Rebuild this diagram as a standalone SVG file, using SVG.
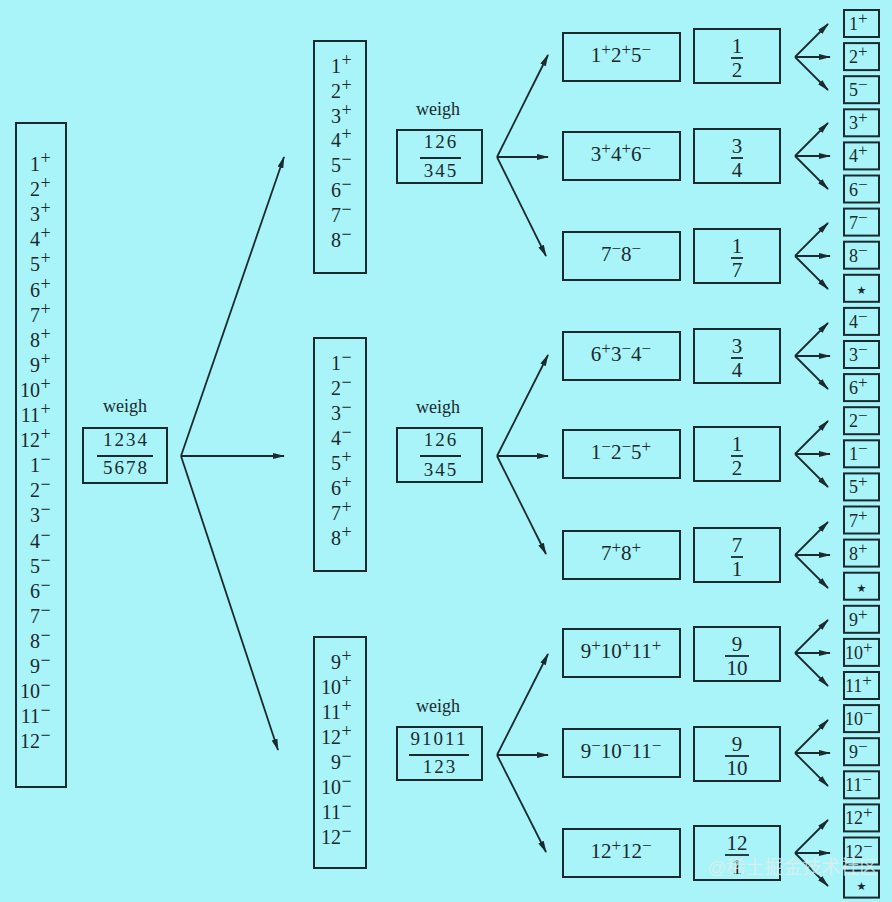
<svg xmlns="http://www.w3.org/2000/svg" width="892" height="902" viewBox="0 0 892 902">
<defs>
<style>
.bg{fill:#a8f4f8}
.box{fill:none;stroke:#1b2a2e;stroke-width:2}
.ln{fill:none;stroke:#1b2a2e;stroke-width:1.8}
text{font-family:"Liberation Serif","DejaVu Serif",serif;fill:#1b2a2e}
.n{font-size:20px}
.s{font-size:18px}
.w{font-size:18px;text-anchor:middle}
.wb{font-size:19px;text-anchor:middle;letter-spacing:2px}
.lab{font-size:21px;text-anchor:middle}
.fr{font-size:21px;text-anchor:middle}
.sm{font-size:18px}
.ss{font-size:17px}
.star{font-family:"DejaVu Sans",sans-serif;font-size:11px;text-anchor:middle}
.wm{font-family:"Liberation Sans","Noto Sans CJK SC",sans-serif;font-size:19px;fill:#e4eeee;fill-opacity:0.75}
</style>
<marker id="ah" markerWidth="12" markerHeight="8" refX="11" refY="4" orient="auto" markerUnits="userSpaceOnUse"><path d="M0,1 L12,4 L0,7 z" fill="#1b2a2e"/></marker>
</defs>
<rect class="bg" x="0" y="0" width="892" height="902"/>

<g id="all-coins">
<rect class="box" x="16" y="123" width="50" height="664"/>
<text class="n" y="171"><tspan x="40" text-anchor="end">1</tspan><tspan class="s" x="40.5" dy="-7">+</tspan></text>
<text class="n" y="196.1"><tspan x="40" text-anchor="end">2</tspan><tspan class="s" x="40.5" dy="-7">+</tspan></text>
<text class="n" y="221.2"><tspan x="40" text-anchor="end">3</tspan><tspan class="s" x="40.5" dy="-7">+</tspan></text>
<text class="n" y="246.3"><tspan x="40" text-anchor="end">4</tspan><tspan class="s" x="40.5" dy="-7">+</tspan></text>
<text class="n" y="271.4"><tspan x="40" text-anchor="end">5</tspan><tspan class="s" x="40.5" dy="-7">+</tspan></text>
<text class="n" y="296.5"><tspan x="40" text-anchor="end">6</tspan><tspan class="s" x="40.5" dy="-7">+</tspan></text>
<text class="n" y="321.6"><tspan x="40" text-anchor="end">7</tspan><tspan class="s" x="40.5" dy="-7">+</tspan></text>
<text class="n" y="346.7"><tspan x="40" text-anchor="end">8</tspan><tspan class="s" x="40.5" dy="-7">+</tspan></text>
<text class="n" y="371.8"><tspan x="40" text-anchor="end">9</tspan><tspan class="s" x="40.5" dy="-7">+</tspan></text>
<text class="n" y="396.9"><tspan x="40" text-anchor="end">10</tspan><tspan class="s" x="40.5" dy="-7">+</tspan></text>
<text class="n" y="422"><tspan x="40" text-anchor="end">11</tspan><tspan class="s" x="40.5" dy="-7">+</tspan></text>
<text class="n" y="447.1"><tspan x="40" text-anchor="end">12</tspan><tspan class="s" x="40.5" dy="-7">+</tspan></text>
<text class="n" y="472.2"><tspan x="40" text-anchor="end">1</tspan><tspan class="s" x="40.5" dy="-7">−</tspan></text>
<text class="n" y="497.3"><tspan x="40" text-anchor="end">2</tspan><tspan class="s" x="40.5" dy="-7">−</tspan></text>
<text class="n" y="522.4"><tspan x="40" text-anchor="end">3</tspan><tspan class="s" x="40.5" dy="-7">−</tspan></text>
<text class="n" y="547.5"><tspan x="40" text-anchor="end">4</tspan><tspan class="s" x="40.5" dy="-7">−</tspan></text>
<text class="n" y="572.6"><tspan x="40" text-anchor="end">5</tspan><tspan class="s" x="40.5" dy="-7">−</tspan></text>
<text class="n" y="597.7"><tspan x="40" text-anchor="end">6</tspan><tspan class="s" x="40.5" dy="-7">−</tspan></text>
<text class="n" y="622.8"><tspan x="40" text-anchor="end">7</tspan><tspan class="s" x="40.5" dy="-7">−</tspan></text>
<text class="n" y="647.9"><tspan x="40" text-anchor="end">8</tspan><tspan class="s" x="40.5" dy="-7">−</tspan></text>
<text class="n" y="673"><tspan x="40" text-anchor="end">9</tspan><tspan class="s" x="40.5" dy="-7">−</tspan></text>
<text class="n" y="698.1"><tspan x="40" text-anchor="end">10</tspan><tspan class="s" x="40.5" dy="-7">−</tspan></text>
<text class="n" y="723.2"><tspan x="40" text-anchor="end">11</tspan><tspan class="s" x="40.5" dy="-7">−</tspan></text>
<text class="n" y="748.3"><tspan x="40" text-anchor="end">12</tspan><tspan class="s" x="40.5" dy="-7">−</tspan></text>
</g>

<g id="weigh-1">
<text class="w" x="125" y="412">weigh</text>
<rect class="box" x="83" y="428" width="84" height="55"/>
<text class="wb" x="126" y="446">1234</text>
<line class="ln" x1="97" y1="456" x2="153" y2="456"/>
<text class="wb" x="126" y="474">5678</text>
</g>

<g id="group-a">
<rect class="box" x="314" y="41" width="52" height="232"/>
<text class="n" y="73"><tspan x="341" text-anchor="end">1</tspan><tspan class="s" x="341.5" dy="-7">+</tspan></text>
<text class="n" y="97.8"><tspan x="341" text-anchor="end">2</tspan><tspan class="s" x="341.5" dy="-7">+</tspan></text>
<text class="n" y="122.6"><tspan x="341" text-anchor="end">3</tspan><tspan class="s" x="341.5" dy="-7">+</tspan></text>
<text class="n" y="147.4"><tspan x="341" text-anchor="end">4</tspan><tspan class="s" x="341.5" dy="-7">+</tspan></text>
<text class="n" y="172.2"><tspan x="341" text-anchor="end">5</tspan><tspan class="s" x="341.5" dy="-7">−</tspan></text>
<text class="n" y="197"><tspan x="341" text-anchor="end">6</tspan><tspan class="s" x="341.5" dy="-7">−</tspan></text>
<text class="n" y="221.8"><tspan x="341" text-anchor="end">7</tspan><tspan class="s" x="341.5" dy="-7">−</tspan></text>
<text class="n" y="246.6"><tspan x="341" text-anchor="end">8</tspan><tspan class="s" x="341.5" dy="-7">−</tspan></text>
</g>

<g id="group-b">
<rect class="box" x="314" y="338" width="52" height="233"/>
<text class="n" y="370"><tspan x="341" text-anchor="end">1</tspan><tspan class="s" x="341.5" dy="-7">−</tspan></text>
<text class="n" y="395"><tspan x="341" text-anchor="end">2</tspan><tspan class="s" x="341.5" dy="-7">−</tspan></text>
<text class="n" y="420"><tspan x="341" text-anchor="end">3</tspan><tspan class="s" x="341.5" dy="-7">−</tspan></text>
<text class="n" y="445"><tspan x="341" text-anchor="end">4</tspan><tspan class="s" x="341.5" dy="-7">−</tspan></text>
<text class="n" y="470"><tspan x="341" text-anchor="end">5</tspan><tspan class="s" x="341.5" dy="-7">+</tspan></text>
<text class="n" y="495"><tspan x="341" text-anchor="end">6</tspan><tspan class="s" x="341.5" dy="-7">+</tspan></text>
<text class="n" y="520"><tspan x="341" text-anchor="end">7</tspan><tspan class="s" x="341.5" dy="-7">+</tspan></text>
<text class="n" y="545"><tspan x="341" text-anchor="end">8</tspan><tspan class="s" x="341.5" dy="-7">+</tspan></text>
</g>

<g id="group-c">
<rect class="box" x="314" y="637" width="52" height="231"/>
<text class="n" y="669"><tspan x="341" text-anchor="end">9</tspan><tspan class="s" x="341.5" dy="-7">+</tspan></text>
<text class="n" y="694"><tspan x="341" text-anchor="end">10</tspan><tspan class="s" x="341.5" dy="-7">+</tspan></text>
<text class="n" y="719"><tspan x="341" text-anchor="end">11</tspan><tspan class="s" x="341.5" dy="-7">+</tspan></text>
<text class="n" y="744"><tspan x="341" text-anchor="end">12</tspan><tspan class="s" x="341.5" dy="-7">+</tspan></text>
<text class="n" y="769"><tspan x="341" text-anchor="end">9</tspan><tspan class="s" x="341.5" dy="-7">−</tspan></text>
<text class="n" y="794"><tspan x="341" text-anchor="end">10</tspan><tspan class="s" x="341.5" dy="-7">−</tspan></text>
<text class="n" y="819"><tspan x="341" text-anchor="end">11</tspan><tspan class="s" x="341.5" dy="-7">−</tspan></text>
<text class="n" y="844"><tspan x="341" text-anchor="end">12</tspan><tspan class="s" x="341.5" dy="-7">−</tspan></text>
</g>

<g id="weigh-a">
<text class="w" x="438" y="115">weigh</text>
<rect class="box" x="397" y="130" width="85" height="53"/>
<text class="wb" x="441" y="148">126</text>
<line class="ln" x1="420" y1="158" x2="461" y2="158"/>
<text class="wb" x="441" y="177">345</text>
</g>
<g id="weigh-b">
<text class="w" x="438" y="413">weigh</text>
<rect class="box" x="397" y="428" width="85" height="54"/>
<text class="wb" x="441" y="446">126</text>
<line class="ln" x1="420" y1="456" x2="461" y2="456"/>
<text class="wb" x="441" y="476">345</text>
</g>
<g id="weigh-c">
<text class="w" x="438" y="712">weigh</text>
<rect class="box" x="397" y="727" width="85" height="53"/>
<text class="wb" x="439" y="745" letter-spacing="1">91011</text>
<line class="ln" x1="409" y1="755" x2="469" y2="755"/>
<text class="wb" x="440" y="773">123</text>
</g>

<g id="case-1"><rect class="box" x="563" y="33" width="117" height="48"/><text class="lab" x="621" y="62">1<tspan class="ss" dy="-7">+</tspan><tspan dy="7">2</tspan><tspan class="ss" dy="-7">+</tspan><tspan dy="7">5</tspan><tspan class="ss" dy="-7">−</tspan></text></g>
<g id="case-2"><rect class="box" x="563" y="132" width="117" height="48"/><text class="lab" x="621" y="161">3<tspan class="ss" dy="-7">+</tspan><tspan dy="7">4</tspan><tspan class="ss" dy="-7">+</tspan><tspan dy="7">6</tspan><tspan class="ss" dy="-7">−</tspan></text></g>
<g id="case-3"><rect class="box" x="563" y="232" width="117" height="48"/><text class="lab" x="621" y="261">7<tspan class="ss" dy="-7">−</tspan><tspan dy="7">8</tspan><tspan class="ss" dy="-7">−</tspan></text></g>
<g id="case-4"><rect class="box" x="563" y="332" width="117" height="48"/><text class="lab" x="621" y="361">6<tspan class="ss" dy="-7">+</tspan><tspan dy="7">3</tspan><tspan class="ss" dy="-7">−</tspan><tspan dy="7">4</tspan><tspan class="ss" dy="-7">−</tspan></text></g>
<g id="case-5"><rect class="box" x="563" y="430" width="117" height="48"/><text class="lab" x="621" y="459">1<tspan class="ss" dy="-7">−</tspan><tspan dy="7">2</tspan><tspan class="ss" dy="-7">−</tspan><tspan dy="7">5</tspan><tspan class="ss" dy="-7">+</tspan></text></g>
<g id="case-6"><rect class="box" x="563" y="531" width="117" height="48"/><text class="lab" x="621" y="560">7<tspan class="ss" dy="-7">+</tspan><tspan dy="7">8</tspan><tspan class="ss" dy="-7">+</tspan></text></g>
<g id="case-7"><rect class="box" x="563" y="629" width="117" height="48"/><text class="lab" x="621" y="658">9<tspan class="ss" dy="-7">+</tspan><tspan dy="7">10</tspan><tspan class="ss" dy="-7">+</tspan><tspan dy="7">11</tspan><tspan class="ss" dy="-7">+</tspan></text></g>
<g id="case-8"><rect class="box" x="563" y="729" width="117" height="48"/><text class="lab" x="621" y="758">9<tspan class="ss" dy="-7">−</tspan><tspan dy="7">10</tspan><tspan class="ss" dy="-7">−</tspan><tspan dy="7">11</tspan><tspan class="ss" dy="-7">−</tspan></text></g>
<g id="case-9"><rect class="box" x="563" y="829" width="117" height="48"/><text class="lab" x="621" y="858">12<tspan class="ss" dy="-7">+</tspan><tspan dy="7">12</tspan><tspan class="ss" dy="-7">−</tspan></text></g>

<g id="frac-1"><rect class="box" x="694" y="29" width="86" height="54"/><text class="fr" x="737" y="53">1</text><line class="ln" x1="731" y1="58" x2="743" y2="58"/><text class="fr" x="737" y="77">2</text></g>
<g id="frac-2"><rect class="box" x="694" y="129" width="86" height="54"/><text class="fr" x="737" y="153">3</text><line class="ln" x1="731" y1="158" x2="743" y2="158"/><text class="fr" x="737" y="177">4</text></g>
<g id="frac-3"><rect class="box" x="694" y="229" width="86" height="54"/><text class="fr" x="737" y="253">1</text><line class="ln" x1="731" y1="258" x2="743" y2="258"/><text class="fr" x="737" y="277">7</text></g>
<g id="frac-4"><rect class="box" x="694" y="329" width="86" height="54"/><text class="fr" x="737" y="353">3</text><line class="ln" x1="731" y1="358" x2="743" y2="358"/><text class="fr" x="737" y="377">4</text></g>
<g id="frac-5"><rect class="box" x="694" y="427" width="86" height="54"/><text class="fr" x="737" y="451">1</text><line class="ln" x1="731" y1="456" x2="743" y2="456"/><text class="fr" x="737" y="475">2</text></g>
<g id="frac-6"><rect class="box" x="694" y="528" width="86" height="54"/><text class="fr" x="737" y="552">7</text><line class="ln" x1="731" y1="557" x2="743" y2="557"/><text class="fr" x="737" y="576">1</text></g>
<g id="frac-7"><rect class="box" x="694" y="627" width="86" height="54"/><text class="fr" x="737" y="651">9</text><line class="ln" x1="725" y1="656" x2="749" y2="656"/><text class="fr" x="737" y="675">10</text></g>
<g id="frac-8"><rect class="box" x="694" y="727" width="86" height="54"/><text class="fr" x="737" y="751">9</text><line class="ln" x1="725" y1="756" x2="749" y2="756"/><text class="fr" x="737" y="775">10</text></g>
<g id="frac-9"><rect class="box" x="694" y="826" width="86" height="54"/><text class="fr" x="737" y="850">12</text><line class="ln" x1="725" y1="855" x2="749" y2="855"/><text class="fr" x="737" y="874">1</text></g>

<g id="results">
<rect class="box" x="844" y="10" width="35" height="27"/><text class="sm" x="849" y="30">1<tspan class="ss" dy="-6">+</tspan></text>
<rect class="box" x="844" y="43.1" width="35" height="27"/><text class="sm" x="849" y="63.1">2<tspan class="ss" dy="-6">+</tspan></text>
<rect class="box" x="844" y="76.2" width="35" height="27"/><text class="sm" x="849" y="96.2">5<tspan class="ss" dy="-6">−</tspan></text>
<rect class="box" x="844" y="109.3" width="35" height="27"/><text class="sm" x="849" y="129.3">3<tspan class="ss" dy="-6">+</tspan></text>
<rect class="box" x="844" y="142.4" width="35" height="27"/><text class="sm" x="849" y="162.4">4<tspan class="ss" dy="-6">+</tspan></text>
<rect class="box" x="844" y="175.5" width="35" height="27"/><text class="sm" x="849" y="195.5">6<tspan class="ss" dy="-6">−</tspan></text>
<rect class="box" x="844" y="208.6" width="35" height="27"/><text class="sm" x="849" y="228.6">7<tspan class="ss" dy="-6">−</tspan></text>
<rect class="box" x="844" y="241.7" width="35" height="27"/><text class="sm" x="849" y="261.7">8<tspan class="ss" dy="-6">−</tspan></text>
<rect class="box" x="844" y="274.8" width="35" height="27"/><text class="star" x="861.5" y="294">★</text>
<rect class="box" x="844" y="307.9" width="35" height="27"/><text class="sm" x="849" y="327.9">4<tspan class="ss" dy="-6">−</tspan></text>
<rect class="box" x="844" y="341" width="35" height="27"/><text class="sm" x="849" y="361">3<tspan class="ss" dy="-6">−</tspan></text>
<rect class="box" x="844" y="374.1" width="35" height="27"/><text class="sm" x="849" y="394.1">6<tspan class="ss" dy="-6">+</tspan></text>
<rect class="box" x="844" y="407.2" width="35" height="27"/><text class="sm" x="849" y="427.2">2<tspan class="ss" dy="-6">−</tspan></text>
<rect class="box" x="844" y="440.3" width="35" height="27"/><text class="sm" x="849" y="460.3">1<tspan class="ss" dy="-6">−</tspan></text>
<rect class="box" x="844" y="473.4" width="35" height="27"/><text class="sm" x="849" y="493.4">5<tspan class="ss" dy="-6">+</tspan></text>
<rect class="box" x="844" y="506.5" width="35" height="27"/><text class="sm" x="849" y="526.5">7<tspan class="ss" dy="-6">+</tspan></text>
<rect class="box" x="844" y="539.6" width="35" height="27"/><text class="sm" x="849" y="559.6">8<tspan class="ss" dy="-6">+</tspan></text>
<rect class="box" x="844" y="572.7" width="35" height="27"/><text class="star" x="861.5" y="592">★</text>
<rect class="box" x="844" y="605.8" width="35" height="27"/><text class="sm" x="849" y="625.8">9<tspan class="ss" dy="-6">+</tspan></text>
<rect class="box" x="844" y="638.9" width="35" height="27"/><text class="sm" x="845" y="658.9">10<tspan class="ss" dy="-6">+</tspan></text>
<rect class="box" x="844" y="672" width="35" height="27"/><text class="sm" x="845" y="692">11<tspan class="ss" dy="-6">+</tspan></text>
<rect class="box" x="844" y="705.1" width="35" height="27"/><text class="sm" x="845" y="725.1">10<tspan class="ss" dy="-6">−</tspan></text>
<rect class="box" x="844" y="738.2" width="35" height="27"/><text class="sm" x="849" y="758.2">9<tspan class="ss" dy="-6">−</tspan></text>
<rect class="box" x="844" y="771.3" width="35" height="27"/><text class="sm" x="845" y="791.3">11<tspan class="ss" dy="-6">−</tspan></text>
<rect class="box" x="844" y="804.4" width="35" height="27"/><text class="sm" x="845" y="824.4">12<tspan class="ss" dy="-6">+</tspan></text>
<rect class="box" x="844" y="837.5" width="35" height="27"/><text class="sm" x="845" y="857.5">12<tspan class="ss" dy="-6">−</tspan></text>
<rect class="box" x="844" y="870.6" width="35" height="27"/><text class="star" x="861.5" y="890">★</text>
</g>

<g id="connectors" class="ln" marker-end="url(#ah)">
<line x1="181" y1="456" x2="284" y2="157"/>
<line x1="181" y1="456" x2="284" y2="456"/>
<line x1="181" y1="456" x2="278" y2="750"/>
<line x1="497" y1="157" x2="548" y2="55"/>
<line x1="497" y1="157" x2="548" y2="157"/>
<line x1="497" y1="157" x2="546" y2="256"/>
<line x1="497" y1="456" x2="548" y2="355"/>
<line x1="497" y1="456" x2="548" y2="456"/>
<line x1="497" y1="456" x2="546" y2="554"/>
<line x1="497" y1="755" x2="548" y2="654"/>
<line x1="497" y1="755" x2="548" y2="755"/>
<line x1="497" y1="755" x2="546" y2="852"/>
<line x1="795" y1="57" x2="828" y2="24"/><line x1="795" y1="57" x2="830" y2="57"/><line x1="795" y1="57" x2="828" y2="90"/>
<line x1="795" y1="156" x2="828" y2="123"/><line x1="795" y1="156" x2="830" y2="156"/><line x1="795" y1="156" x2="828" y2="189"/>
<line x1="795" y1="256" x2="828" y2="223"/><line x1="795" y1="256" x2="830" y2="256"/><line x1="795" y1="256" x2="828" y2="289"/>
<line x1="795" y1="356" x2="828" y2="323"/><line x1="795" y1="356" x2="830" y2="356"/><line x1="795" y1="356" x2="828" y2="389"/>
<line x1="795" y1="454" x2="828" y2="421"/><line x1="795" y1="454" x2="830" y2="454"/><line x1="795" y1="454" x2="828" y2="487"/>
<line x1="795" y1="555" x2="828" y2="522"/><line x1="795" y1="555" x2="830" y2="555"/><line x1="795" y1="555" x2="828" y2="588"/>
<line x1="795" y1="653" x2="828" y2="620"/><line x1="795" y1="653" x2="830" y2="653"/><line x1="795" y1="653" x2="828" y2="686"/>
<line x1="795" y1="753" x2="828" y2="720"/><line x1="795" y1="753" x2="830" y2="753"/><line x1="795" y1="753" x2="828" y2="786"/>
<line x1="795" y1="853" x2="828" y2="820"/><line x1="795" y1="853" x2="830" y2="853"/><line x1="795" y1="853" x2="828" y2="886"/>
</g>

<text class="wm" x="707" y="874">@稀土掘金技术社区</text>
</svg>
